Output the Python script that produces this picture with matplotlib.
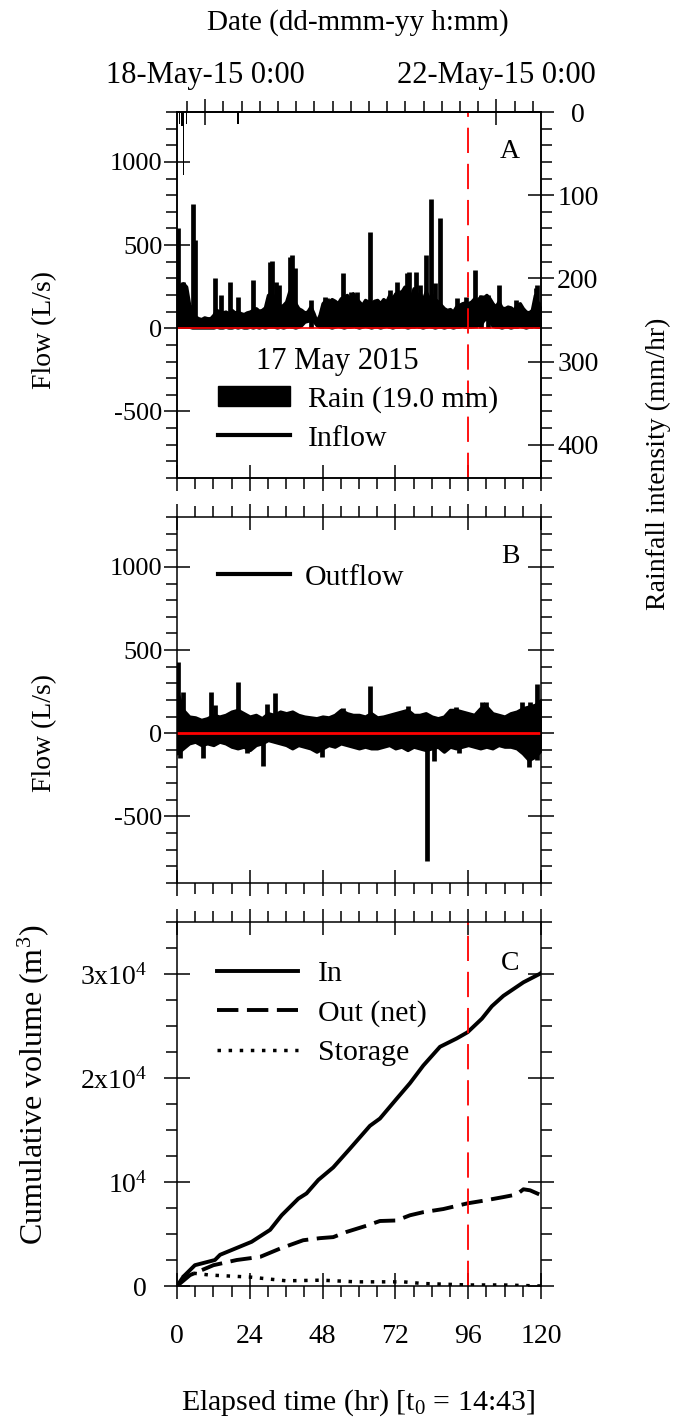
import numpy as np
import matplotlib
matplotlib.use("Agg")
import matplotlib.pyplot as plt
from matplotlib.ticker import MultipleLocator, FixedLocator, FixedFormatter
from matplotlib.patches import Patch
from matplotlib.lines import Line2D

plt.rcParams['font.family'] = ['Liberation Serif', 'DejaVu Serif']
plt.rcParams['mathtext.fontset'] = 'custom'
plt.rcParams['mathtext.rm'] = 'Liberation Serif'
plt.rcParams['mathtext.it'] = 'Liberation Serif:italic'
plt.rcParams['axes.unicode_minus'] = False
plt.rcParams['font.size'] = 19

# ---- rain (mm/hr), hours after t0 = 17 May 14:43
rain_hr = [0.9, 1.6, 2.1, 3.1, 20.1]
rain_rate = [15, 17, 76, 15, 15]

# ---- inflow band, hourly upper / lower edge (L/s)
hours = np.arange(0, 121)
inflow_hi = [150, 260, 270, 250, 140, 120, 70, 60, 55, 65, 60, 60, 80, 110, 100, 95, 100, 90, 110, 95,
             100, 90, 85, 95, 100, 110, 120, 105, 110, 125, 200, 210, 190, 150, 130, 140, 160, 220, 200, 150,
             120, 110, 95, 100, 130, 90, 40, 80, 150, 170, 160, 175, 165, 150, 180, 190, 200, 170, 210, 180,
             160, 140, 170, 160, 150, 165, 170, 150, 175, 160, 200, 180, 210, 170, 220, 250, 230, 180, 240, 200,
             210, 170, 220, 180, 200, 175, 160, 140, 120, 110, 115, 100, 130, 140, 150, 155, 150, 160, 180, 170,
             190, 185, 200, 180, 150, 130, 160, 125, 120, 130, 125, 110, 140, 150, 120, 100, 95, 110, 200, 150,
             110]
inflow_lo = [20, 10, 10, 10, 10, 5, 5, 5, 5, 5, 5, 5, 5, 10, 5, 5, 10, 5, 5, 10,
             5, 10, 5, 5, 10, 5, 10, 5, 10, 5, 10, 15, 10, 5, 10, 5, 10, 15, 10, 5,
             10, 20, 40, 45, 50, 45, 20, 10, 10, 15, 10, 5, 10, 15, 10, 5, 10, 10, 15, 10,
             5, 10, 15, 10, 5, 10, 10, 5, 10, 15, 10, 5, 10, 10, 15, 10, 5, 10, 10, 15,
             10, 5, 10, 15, 10, 5, 10, 10, 5, 10, 10, 5, 10, 10, 15, 10, 10, 10, 15, 20,
             20, 50, 60, 50, 15, 10, 10, 5, 10, 10, 5, 10, 10, 15, 10, 5, 10, 10, 15, 10,
             10]
inflow_spike_hr = [0.2, 2.0, 5.2, 5.8, 12.5, 14.6, 17.6, 20.0, 25.1, 30.5, 31.3, 32.5, 33.5, 37.3,
                   38.0, 38.8, 44.1, 48.8, 49.5, 54.8, 57.2, 59.5, 63.6, 70.2, 72.4, 74.0, 75.8,
                   76.5, 78.8, 80.2, 82.0, 83.8, 85.1, 86.6, 92.3, 95.3, 98.2, 100.3, 102.5,
                   106.2, 111.7, 118.2, 118.8, 119.8]
inflow_spike = [600, 280, 750, 530, 300, 200, 280, 190, 290, 400, 405, 280, 260, 430,
                440, 360, 170, 190, 180, 330, 220, 220, 580, 230, 280, 230, 330,
                340, 340, 260, 440, 780, 270, 660, 180, 190, 350, 200, 200,
                260, 170, 245, 260, 160]

# ---- outflow band, 2-hourly upper / lower edge (L/s)
hours2 = np.arange(0, 121, 2)
outflow_hi = [250, 140, 100, 95, 80, 90, 110, 100, 110, 130, 140, 120, 100, 110, 90, 120, 110, 130, 120, 130,
              110, 100, 95, 90, 100, 95, 110, 140, 120, 110, 110, 100, 120, 95, 100, 110, 120, 130, 140, 110,
              110, 120, 100, 90, 100, 140, 140, 130, 120, 110, 150, 160, 120, 110, 100, 120, 130, 150, 160, 170,
              200]
outflow_lo = [-120, -90, -60, -50, -70, -60, -70, -50, -60, -80, -90, -80, -100, -70, -60, -40, -50, -60, -70, -90,
              -70, -80, -90, -110, -90, -70, -80, -60, -70, -80, -90, -80, -90, -90, -80, -70, -90, -80, -100, -80,
              -90, -100, -90, -80, -110, -80, -90, -80, -70, -80, -90, -80, -90, -70, -80, -80, -90, -120, -160, -140,
              -100]
outflow_spike_hr = [0.4, 1.0, 2.0, 8.7, 11.2, 12.5, 20.2, 23.0, 28.2, 29.6, 32.3, 36.5, 37.5, 47.7,
                    54.8, 63.6, 76.3, 82.3, 84.8, 92.0, 93.0, 100.5, 101.8, 113.6, 116.0, 116.3,
                    118.6, 118.8]
outflow_spike = [430, -150, 250, -150, 250, 170, 310, -120, -195, 175, 245, 120, -90, -145,
                 150, 285, 165, -765, -165, 160, -120, 185, 190, 190, -200, 190,
                 295, -160]

# ---- cumulative volumes (m3)
cum_in_hr = [0, 2.1, 5.9, 12.5, 14.2, 24.6, 30.7, 34.5, 40.0, 42.7, 46.6, 51.5, 57.0, 63.6,
             66.9, 72.4, 76.8, 81.2, 86.7, 92.2, 95.8, 100.5, 103.8, 107.6, 114.2, 119.5, 120]
cum_in = [0, 900, 2000, 2500, 3000, 4250, 5400, 6800, 8400, 8900, 10200, 11400, 13200, 15400,
          16100, 18000, 19500, 21200, 23000, 23800, 24400, 25700, 26900, 27900, 29200, 30000, 30100]
cum_out_hr = [0, 4.3, 12, 19.7, 27.4, 34, 41.6, 47.1, 51.5, 55.9, 62.5, 66.9, 72.4, 76.8, 81.2,
              87.8, 95.8, 101, 107.6, 112, 114.2, 116.4, 119.5, 120]
cum_out = [0, 1050, 2000, 2500, 2800, 3600, 4400, 4600, 4700, 5200, 5800, 6250, 6300, 6800, 7100,
           7400, 7950, 8200, 8550, 8800, 9300, 9200, 8800, 8700]
storage_hr = [0, 2, 4.8, 10.9, 24, 36, 47.7, 59, 74.6, 81, 95.8, 107.6, 120]
storage = [0, 900, 1250, 1050, 860, 500, 560, 400, 400, 240, 100, 100, 0]

# date ticks on the top axis (t0 = 14:43 on 17 May)
day_start = (24 * 60 - (14 * 60 + 43)) / 60.0
date_ticks = [day_start, day_start + 96]
date_labels = ['18-May-15 0:00', '22-May-15 0:00']

W, H = 676, 1424
fig = plt.figure(figsize=(W / 100, H / 100), dpi=100)


def box(l, t, r, b):
    return [l / W, 1 - b / H, (r - l) / W, (b - t) / H]


def frame(ax, top=True, right=True):
    for s in ax.spines.values():
        s.set_linewidth(1.1)
    ax.set_xlim(0, 120)
    ax.xaxis.set_major_locator(MultipleLocator(24))
    ax.xaxis.set_minor_locator(MultipleLocator(6))
    ax.tick_params(which='major', direction='inout', length=19, width=1.1,
                   top=top, right=right, labelbottom=False)
    ax.tick_params(which='minor', direction='out', length=8, width=1.1,
                   top=top, right=right)


axA = fig.add_axes(box(177, 112, 541, 478))
axB = fig.add_axes(box(177, 517, 541, 883))
axC = fig.add_axes(box(177, 922, 541, 1286))

red_dash = (0, (14, 6))
LEG = 21.5

# ---------- A: rain + inflow
frame(axA, top=False, right=False)
axA.set_ylim(-900, 1300)
axA.yaxis.set_major_locator(MultipleLocator(500))
axA.yaxis.set_minor_locator(MultipleLocator(100))
axA.tick_params(axis='y', pad=1)
axA.fill_between(hours, inflow_lo, inflow_hi, color='k', lw=2.5)
axA.vlines(inflow_spike_hr, 0, inflow_spike, color='k', lw=3.4)
axA.axhline(0, color='red', lw=1.2)
axA.axvline(96, color='red', lw=1.3, linestyle=red_dash)
axA.text(0.915, 0.891, 'A', transform=axA.transAxes, ha='center', va='center', fontsize=20)

axR = axA.twinx()
axR.bar(rain_hr, rain_rate, width=0.5, color='k')
axR.set_ylim(440, 0)
axR.yaxis.set_major_locator(MultipleLocator(100))
axR.yaxis.set_minor_locator(MultipleLocator(20))
axR.tick_params(which='major', direction='inout', length=19, width=1.1, pad=17, labelsize=20)
axR.tick_params(which='minor', direction='out', length=8, width=1.1)
for lab in axR.get_yticklabels():
    lab.set_ha('center')
for s in axR.spines.values():
    s.set_linewidth(1.1)

sec = axA.secondary_xaxis('top')
sec.set_xticks(date_ticks)
sec.set_xticklabels(date_labels)
sec.xaxis.set_minor_locator(FixedLocator(np.arange(day_start - 6, 121, 6)))
sec.tick_params(which='major', direction='inout', length=19, width=1.1, pad=6.5, labelsize=22)
sec.tick_params(which='minor', direction='out', length=8, width=1.1)
sec.spines['top'].set_linewidth(1.1)

axA.text(0.441, 0.317, '17 May 2015', transform=axA.transAxes, ha='center', va='center',
         fontsize=22)
axA.legend([Patch(facecolor='k', edgecolor='k'), Line2D([], [], color='k', lw=3)],
           ['Rain (19.0 mm)', 'Inflow'], loc='upper left', bbox_to_anchor=(0.1126, 0.252),
           frameon=False, borderpad=0, borderaxespad=0, handlelength=2.41, handleheight=0.65,
           handletextpad=0.6, labelspacing=0.42, fontsize=LEG)

# ---------- B: outflow
frame(axB)
axB.set_ylim(-900, 1300)
axB.yaxis.set_major_locator(MultipleLocator(500))
axB.yaxis.set_minor_locator(MultipleLocator(100))
axB.tick_params(axis='y', pad=1)
axB.fill_between(hours2, outflow_lo, outflow_hi, color='k', lw=2.5)
axB.vlines(outflow_spike_hr, 0, outflow_spike, color='k', lw=3.4)
axB.axhline(0, color='red', lw=2)
axB.text(0.915, 0.891, 'B', transform=axB.transAxes, ha='center', va='center', fontsize=20)
axB.legend([Line2D([], [], color='k', lw=3)], ['Outflow'], loc='upper left',
           bbox_to_anchor=(0.1126, 0.8716), frameon=False, borderpad=0, borderaxespad=0,
           handlelength=2.41, handletextpad=0.5, fontsize=LEG)

# ---------- C: cumulative volumes
frame(axC)
axC.set_ylim(0, 35000)
axC.yaxis.set_major_locator(FixedLocator([0, 10000, 20000, 30000]))
axC.yaxis.set_major_formatter(FixedFormatter(['0', r'$\mathregular{10^4}$',
                                              r'$\mathregular{2x10^4}$', r'$\mathregular{3x10^4}$']))
axC.yaxis.set_minor_locator(MultipleLocator(2500))
axC.tick_params(axis='y', pad=12, labelsize=20)
axC.tick_params(axis='x', labelbottom=True, pad=18, labelsize=20)
axC.plot(cum_in_hr, cum_in, color='k', lw=2.8, label='In')
axC.plot(cum_out_hr, cum_out, color='k', lw=2.8, linestyle=(0, (5.5, 2.2)), label='Out (net)')
axC.plot(storage_hr, storage, color='k', lw=2.5, linestyle=(0, (1, 2.2)), label='Storage')
axC.axvline(96, color='red', lw=1.3, linestyle=red_dash)
axC.text(0.915, 0.887, 'C', transform=axC.transAxes, ha='center', va='center', fontsize=20)
axC.legend(loc='upper left', bbox_to_anchor=(0.110, 0.895), frameon=False, borderpad=0,
           borderaxespad=0, handlelength=2.71, handletextpad=0.67, labelspacing=0.42,
           fontsize=LEG)

# ---------- axis titles
fig.text(45 / W, 1 - 330 / H, 'Flow (L/s)', rotation=90, ha='center', va='center', fontsize=20)
fig.text(45 / W, 1 - 733 / H, 'Flow (L/s)', rotation=90, ha='center', va='center', fontsize=20)
fig.text(33 / W, 1 - 1085 / H, r'Cumulative volume (m$^\mathregular{3}$)', rotation=90,
         ha='center', va='center', fontsize=23)
fig.text(658 / W, 1 - 464 / H, 'Rainfall intensity (mm/hr)', rotation=90, ha='center',
         va='center', fontsize=20)
fig.text(358 / W, 1 - 23 / H, 'Date (dd-mmm-yy h:mm)', ha='center', va='center', fontsize=21)
fig.text(358 / W, 1 - 1403 / H, r'Elapsed time (hr) [t$_\mathregular{0}$ = 14:43]',
         ha='center', va='center', fontsize=21.5)

fig.savefig('out.png', dpi=100)
